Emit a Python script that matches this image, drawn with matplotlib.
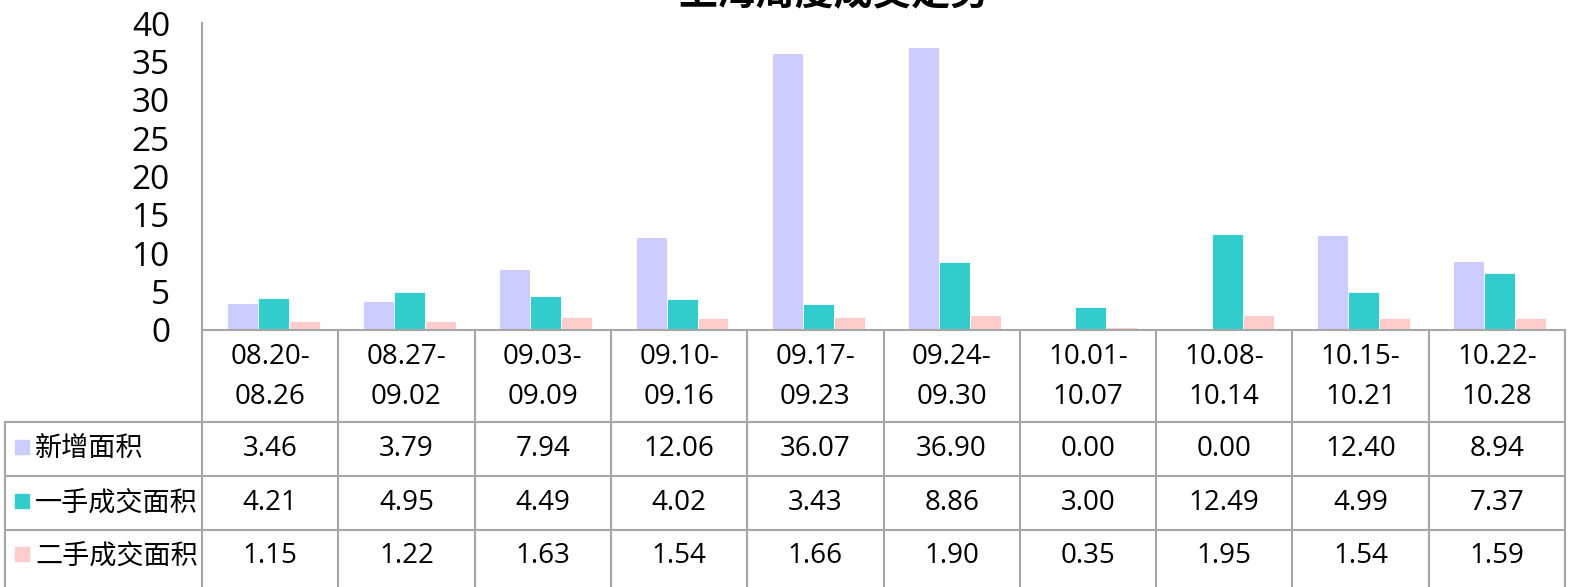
import matplotlib
matplotlib.use("Agg")
import matplotlib.pyplot as plt
import numpy as np

plt.rcParams['font.family'] = ['Open Sans', 'Noto Sans CJK SC', 'DejaVu Sans']

weeks = ['08.20-\n08.26', '08.27-\n09.02', '09.03-\n09.09', '09.10-\n09.16', '09.17-\n09.23',
         '09.24-\n09.30', '10.01-\n10.07', '10.08-\n10.14', '10.15-\n10.21', '10.22-\n10.28']
series_names = ['新增面积', '一手成交面积', '二手成交面积']
new_area = [3.46, 3.79, 7.94, 12.06, 36.07, 36.90, 0.00, 0.00, 12.40, 8.94]
first_hand = [4.21, 4.95, 4.49, 4.02, 3.43, 8.86, 3.00, 12.49, 4.99, 7.37]
second_hand = [1.15, 1.22, 1.63, 1.54, 1.66, 1.90, 0.35, 1.95, 1.54, 1.59]
colors = ['#CCCCFF', '#33CCCC', '#FFCCCC']
title = '上海周度成交走势'

W, H = 1585, 587
fig = plt.figure(figsize=(W / 100, H / 100), dpi=100)

# main bar axes
ax = fig.add_axes([202 / W, 1 - 330 / H, 1363 / W, 307 / H])
x = np.arange(len(weeks))
bw = 0.227
for i, vals in enumerate([new_area, first_hand, second_hand]):
    ax.bar(x + (i - 1) * bw + 0.022, vals, bw, color=colors[i],
           edgecolor='white', linewidth=0.6, zorder=2)
ax.set_xlim(-0.5, len(weeks) - 0.5)
ax.set_ylim(0, 40)
ax.set_yticks(range(0, 41, 5))
ax.tick_params(axis='y', length=0, labelsize=24, pad=23)
ax.set_xticks([])
for s in ['top', 'right']:
    ax.spines[s].set_visible(False)
ax.spines['left'].set_color('#A6A6A6')
ax.spines['left'].set_linewidth(1.5)
ax.spines['bottom'].set_visible(False)

# data table under the chart
px = 1363 / len(weeks)
tax = fig.add_axes([5 / W, 0, 1560 / W, 257 / H])
tax.set_xlim(-0.5 - 197 / px, len(weeks) - 0.5)
tax.set_ylim(257, 0)
tax.axis('off')
lc = '#A6A6A6'
lw = 1.5
left = -0.5 - 197 / px
right = len(weeks) - 0.5
row_edges = [0, 92, 146, 200]
row_mid = [119, 173, 226]
tax.plot([-0.5, right], [0, 0], color=lc, lw=lw, clip_on=False)
for yy in row_edges[1:]:
    tax.plot([left, right], [yy, yy], color=lc, lw=lw, clip_on=False)
for xx in np.arange(-0.5, len(weeks) + 0.5):
    tax.plot([xx, xx], [0, 257], color=lc, lw=lw, clip_on=False)
tax.plot([left, left], [92, 257], color=lc, lw=lw, clip_on=False)

for j, w in enumerate(weeks):
    tax.text(j, 47, w, ha='center', va='center', fontsize=20, linespacing=1.6)

for i, (name, vals) in enumerate(zip(series_names, [new_area, first_hand, second_hand])):
    yc = row_mid[i]
    tax.add_patch(plt.Rectangle((left + 10 / px, yc - 9), 14 / px, 14,
                                color=colors[i], clip_on=False))
    tax.text(left + 30 / px, yc, name, ha='left', va='center', fontsize=19.5,
             family=['Noto Sans CJK SC', 'DejaVu Sans'])
    for j, v in enumerate(vals):
        tax.text(j, yc, f'{v:.2f}', ha='center', va='center', fontsize=20)

fig.text(834 / W, 1 - 5 / H, title, ha='center', va='baseline',
         fontsize=28, fontweight='bold', family=['Noto Sans CJK SC', 'DejaVu Sans'])

fig.savefig('out.png', dpi=100)
